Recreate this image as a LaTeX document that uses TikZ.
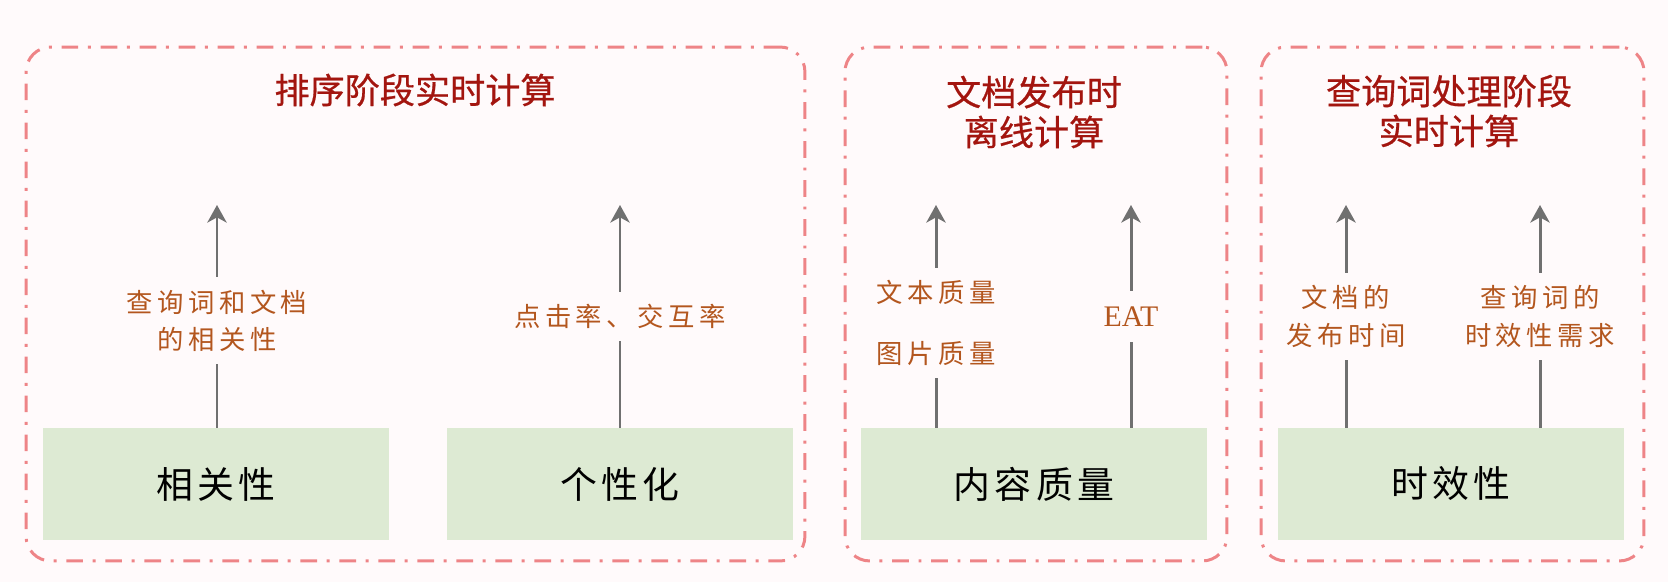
\documentclass[tikz,border=0pt]{standalone}
\usepackage{fontspec}
\setmainfont{Liberation Serif}
\newfontfamily\cjktitle[FakeBold=0.6]{Noto Sans CJK SC}
\newfontfamily\cjknote[LetterSpace=17]{Noto Sans CJK SC}
\newfontfamily\cjkbox[LetterSpace=12]{Noto Sans CJK SC}
\usetikzlibrary{arrows.meta,positioning}
\definecolor{SBack}{HTML}{FFFAFB}
\definecolor{SFrame}{HTML}{EE8487}
\definecolor{STitle}{HTML}{A3150F}
\definecolor{SNote}{HTML}{B3561E}
\definecolor{SGreen}{HTML}{DDEAD3}
\definecolor{SArrow}{HTML}{707070}

\begin{document}
\begin{tikzpicture}[x=0.02cm,y=-0.02cm,
    frame/.style={draw=SFrame,line width=1.7pt,dash pattern=on 9.5pt off 5.5pt on 1.7pt off 5.5pt,rounded corners=14pt,inner sep=0pt,minimum height=10.28cm},
    title/.style={text=STitle,font=\cjktitle\fontsize{20}{22.7}\selectfont,align=center},
    factor/.style={fill=SGreen,inner sep=0pt,minimum width=6.92cm,minimum height=2.24cm,font=\cjkbox\fontsize{21}{24}\selectfont},
    note/.style={fill=SBack,text=SNote,align=center,inner xsep=2pt,inner ysep=7pt,font=\cjknote\fontsize{15}{21.5}\selectfont},
    arrowline/.style={draw=SArrow,line width=1.7pt,-{Stealth[length=10pt,width=11pt,inset=3pt]}}]
    \useasboundingbox (0,0) rectangle (1668,582);
    \fill[SBack] (0,0) rectangle (1668,582);

    % the three stages
    \node[frame,minimum width=15.58cm] (rank) at (415.5,304) {};
    \node[frame,minimum width=7.64cm] (offline) at (1036,304) {};
    \node[frame,minimum width=7.66cm] (query) at (1452.5,304) {};

    \node[title] (ranktitle) at (415,90) {排序阶段实时计算};
    \node[title] (offlinetitle) at (1034,112) {文档发布时\\离线计算};
    \node[title] (querytitle) at (1449,111) {查询词处理阶段\\实时计算};

    % the four factors
    \node[factor] (rel) at (216,484) {相关性};
    \node[factor] (pers) at (620,484) {个性化};
    \node[factor] (qual) at (1034,484) {内容质量};
    \node[factor] (fresh) at (1451,484) {时效性};

    \coordinate (reltip) at (217,205);
    \coordinate (perstip) at (620,205);
    \coordinate (qualtipA) at (936,205);
    \coordinate (qualtipB) at (1131,205);
    \coordinate (freshtipA) at (1346,205);
    \coordinate (freshtipB) at (1540,205);

    \draw[arrowline] (reltip |- rel.north) -- (reltip) node[note,pos=0.48] (relnote) {查询词和文档\\的相关性};
    \draw[arrowline] (perstip |- pers.north) -- (perstip) node[note,pos=0.5] (persnote) {点击率、交互率};
    \draw[arrowline] (qualtipA |- qual.north) -- (qualtipA) node[note,pos=0.47] (qualnoteA) {文本质量\\[13.5pt]图片质量};
    \draw[arrowline] (qualtipB |- qual.north) -- (qualtipB) node[note,pos=0.5,inner ysep=9pt,font=\fontsize{17}{20}\selectfont] (qualnoteB) {EAT};
    \draw[arrowline] (freshtipA |- fresh.north) -- (freshtipA) node[note,pos=0.5] (freshnoteA) {文档的\\发布时间};
    \draw[arrowline] (freshtipB |- fresh.north) -- (freshtipB) node[note,pos=0.5] (freshnoteB) {查询词的\\时效性需求};
\end{tikzpicture}
\end{document}
